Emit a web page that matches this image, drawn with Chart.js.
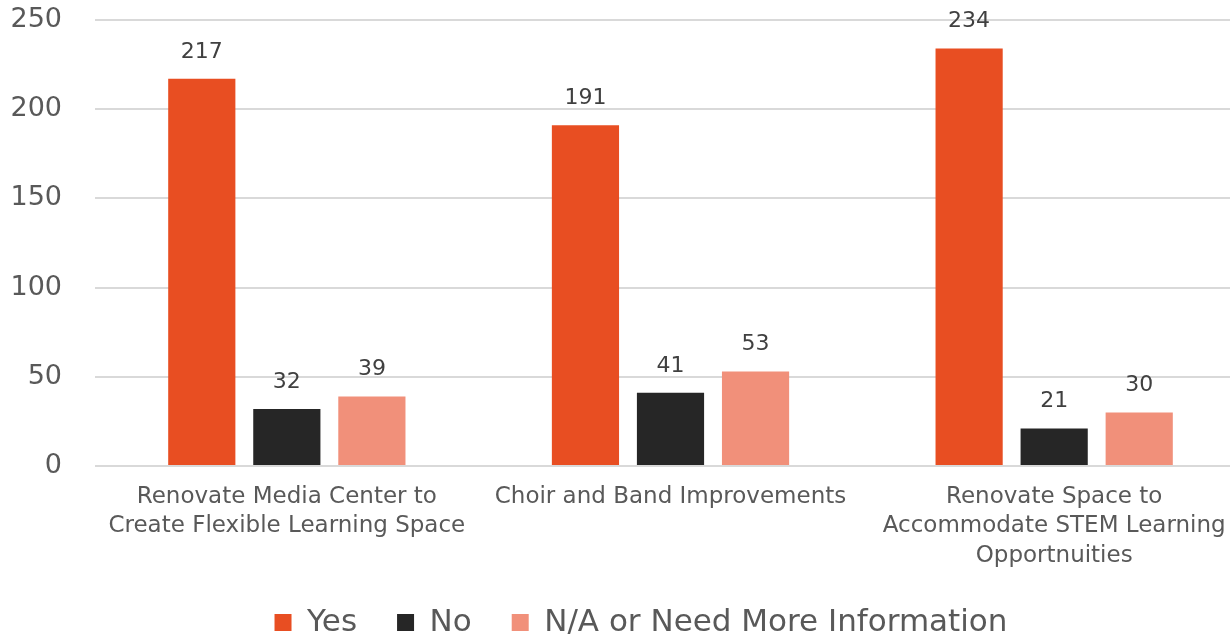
<!DOCTYPE html>
<html>
<head>
<meta charset="utf-8">
<script src="https://cdn.jsdelivr.net/npm/chart.js@4"></script>
<style>
  html, body { margin: 0; padding: 0; background: #fff; overflow: hidden; }
  #wrap { width: 1246px; height: 637px; position: relative; }
</style>
</head>
<body>
<div id="wrap"><canvas id="chart"></canvas></div>
<script>
const categories = [
  ['Renovate Media Center to', 'Create Flexible Learning Space'],
  'Choir and Band Improvements',
  ['Renovate Space to', 'Accommodate STEM Learning', 'Opportnuities'],
];
const yesValues = [217, 191, 234];
const noValues = [32, 41, 21];
const naValues = [39, 53, 30];
const yTicks = [0, 50, 100, 150, 200, 250];

const fontFamily = '"DejaVu Sans", sans-serif';

// draws the value over each bar
const valueLabels = {
  id: 'valueLabels',
  beforeDraw(chart) {
    // nudge legend a bit right, like the original
    chart.legend.left += 13;
    chart.legend.right += 13;
  },
  afterDatasetsDraw(chart) {
    const ctx = chart.ctx;
    ctx.save();
    ctx.font = '22px ' + fontFamily;
    ctx.fillStyle = '#404040';
    ctx.textAlign = 'center';
    ctx.textBaseline = 'bottom';
    chart.data.datasets.forEach((ds, i) => {
      chart.getDatasetMeta(i).data.forEach((bar, j) => {
        ctx.fillText(ds.data[j], bar.x, bar.y - 16);
      });
    });
    ctx.restore();
  },
};

new Chart(document.getElementById('chart'), {
  type: 'bar',
  data: {
    labels: categories,
    datasets: [
      { label: 'Yes', data: yesValues, backgroundColor: '#E84E22' },
      { label: 'No', data: noValues, backgroundColor: '#262626' },
      { label: 'N/A or Need More Information', data: naValues, backgroundColor: '#F1907A' },
    ],
  },
  options: {
    responsive: true,
    maintainAspectRatio: false,
    animation: false,
    categoryPercentage: 0.665,
    barPercentage: 0.79,
    layout: { padding: { top: 20, left: 10, right: 0, bottom: -11 } },
    plugins: {
      tooltip: { enabled: false },
      legend: {
        position: 'bottom',
        labels: {
          color: '#595959',
          font: { family: fontFamily, size: 31 },
          boxWidth: 17,
          boxHeight: 17,
          padding: 40,
        },
      },
    },
    scales: {
      x: {
        grid: { display: false, drawTicks: false },
        border: { display: false },
        afterFit(axis) {
          axis.paddingLeft = 0;
          axis.paddingRight = 0;
          axis.height = 101;
        },
        ticks: {
          color: '#595959',
          font: { family: fontFamily, size: 23, lineHeight: 1.28 },
          padding: 16,
          maxRotation: 0,
          autoSkip: false,
        },
      },
      y: {
        min: 0,
        max: 250,
        afterBuildTicks(axis) {
          axis.ticks = yTicks.map((v) => ({ value: v }));
        },
        afterFit(axis) {
          axis.paddingTop = 0;
          axis.paddingBottom = 0;
          axis.width = 85;
        },
        grid: { color: '#D9D9D9', lineWidth: 2, drawTicks: false },
        border: { display: false },
        ticks: {
          color: '#595959',
          font: { family: fontFamily, size: 27 },
          padding: 33,
        },
      },
    },
  },
  plugins: [valueLabels],
});
</script>
</body>
</html>
